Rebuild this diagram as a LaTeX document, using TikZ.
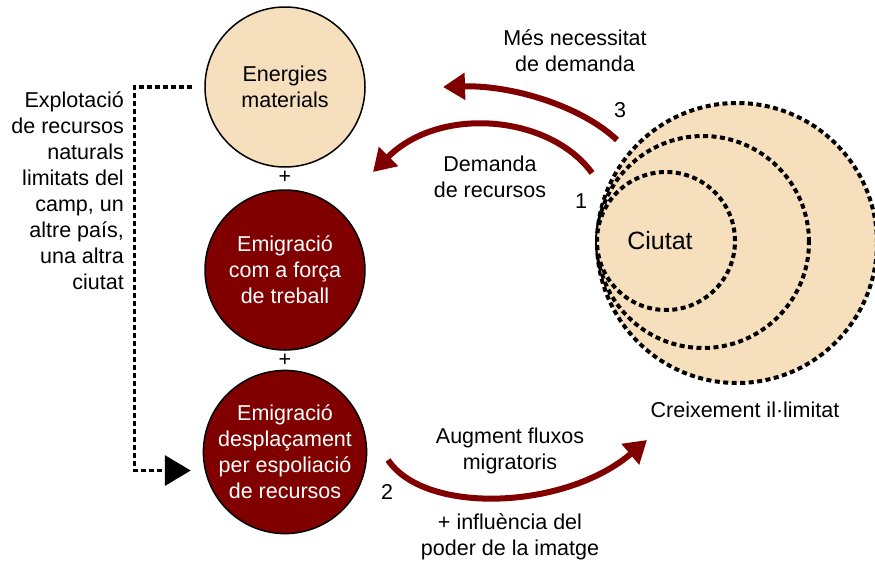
\documentclass[tikz,border=0pt]{standalone}
\usepackage{fontspec}
\setmainfont{Liberation Sans}
\usetikzlibrary{arrows.meta}
\definecolor{wheatbg}{RGB}{245,223,188}
\definecolor{darkred}{RGB}{128,0,0}

\begin{document}
\begin{tikzpicture}[x=1pt, y=-1pt,
    every node/.style={font=\fontsize{21.5}{26}\selectfont, align=center, inner sep=0pt},
    bubble/.style={circle, draw, line width=1.5pt, minimum size=160pt},
    ring/.style={circle, draw, fill=wheatbg, line width=4pt, dash pattern=on 5pt off 3.5pt},
    flow/.style={color=darkred, line width=6pt, -{Triangle[length=22pt, width=26pt]}},
    dots/.style={line width=3.5pt, dash pattern=on 5pt off 3pt}]
    \useasboundingbox (0,0) rectangle (875,563);

    \node[bubble, fill=wheatbg] (energ) at (285,87) {Energies\\materials};
    \node[bubble, fill=darkred, text=white] (treb) at (285,270) {Emigració\\com a força\\de treball};
    \node[bubble, fill=darkred, text=white] (desp) at (285,452) {Emigració\\desplaçament\\per espoliació\\de recursos};
    \node (plus1) at (285,177) {+};
    \node (plus2) at (285,360) {+};

    \node[ring, minimum size=280pt] (limit) at (737,243) {};
    \node[ring, minimum size=212pt] (mid) at (703,242) {};
    \node[ring, minimum size=138pt] (ciutat) at (666,241) {};
    \node[font=\fontsize{25}{30}\selectfont] (ciut) at (660,241) {Ciutat};
    \node (creix) at (745,410) {Creixement il·limitat};

    \node[anchor=east, align=right] (explot) at (124,191) {Explotació\\de recursos\\naturals\\limitats del\\camp, un\\altre país,\\una altra\\ciutat};

    \coordinate (s1) at (592,173);
    \coordinate (e1) at (373,172);
    \coordinate (s2) at (388,460);
    \coordinate (e2) at (647,440);
    \coordinate (s3) at (617,140);
    \coordinate (e3) at (443,87);

    \draw[flow] (s1) .. controls (550,115) and (440,105) .. (e1);
    \draw[flow] (s2) .. controls (425,515) and (565,510) .. (e2);
    \draw[flow] (s3) .. controls (580,105) and (510,85) .. (e3);

    \node (n1) at (581,201) {1};
    \node (n2) at (387,492) {2};
    \node (n3) at (620,110) {3};
    \node (lab1) at (490,177) {Demanda\\de recursos};
    \node (lab2) at (510,451) {Augment fluxos\\migratoris};
    \node (lab3) at (575,51) {Més necessitat\\de demanda};
    \node (lab4) at (510,537) {+ influència del\\poder de la imatge};

    \draw[dots, -{Triangle[length=26pt, width=30pt]}, shorten <=12pt, shorten >=14pt]
        (energ.west) -- ++(-70,0) |- (desp.193);
\end{tikzpicture}
\end{document}
